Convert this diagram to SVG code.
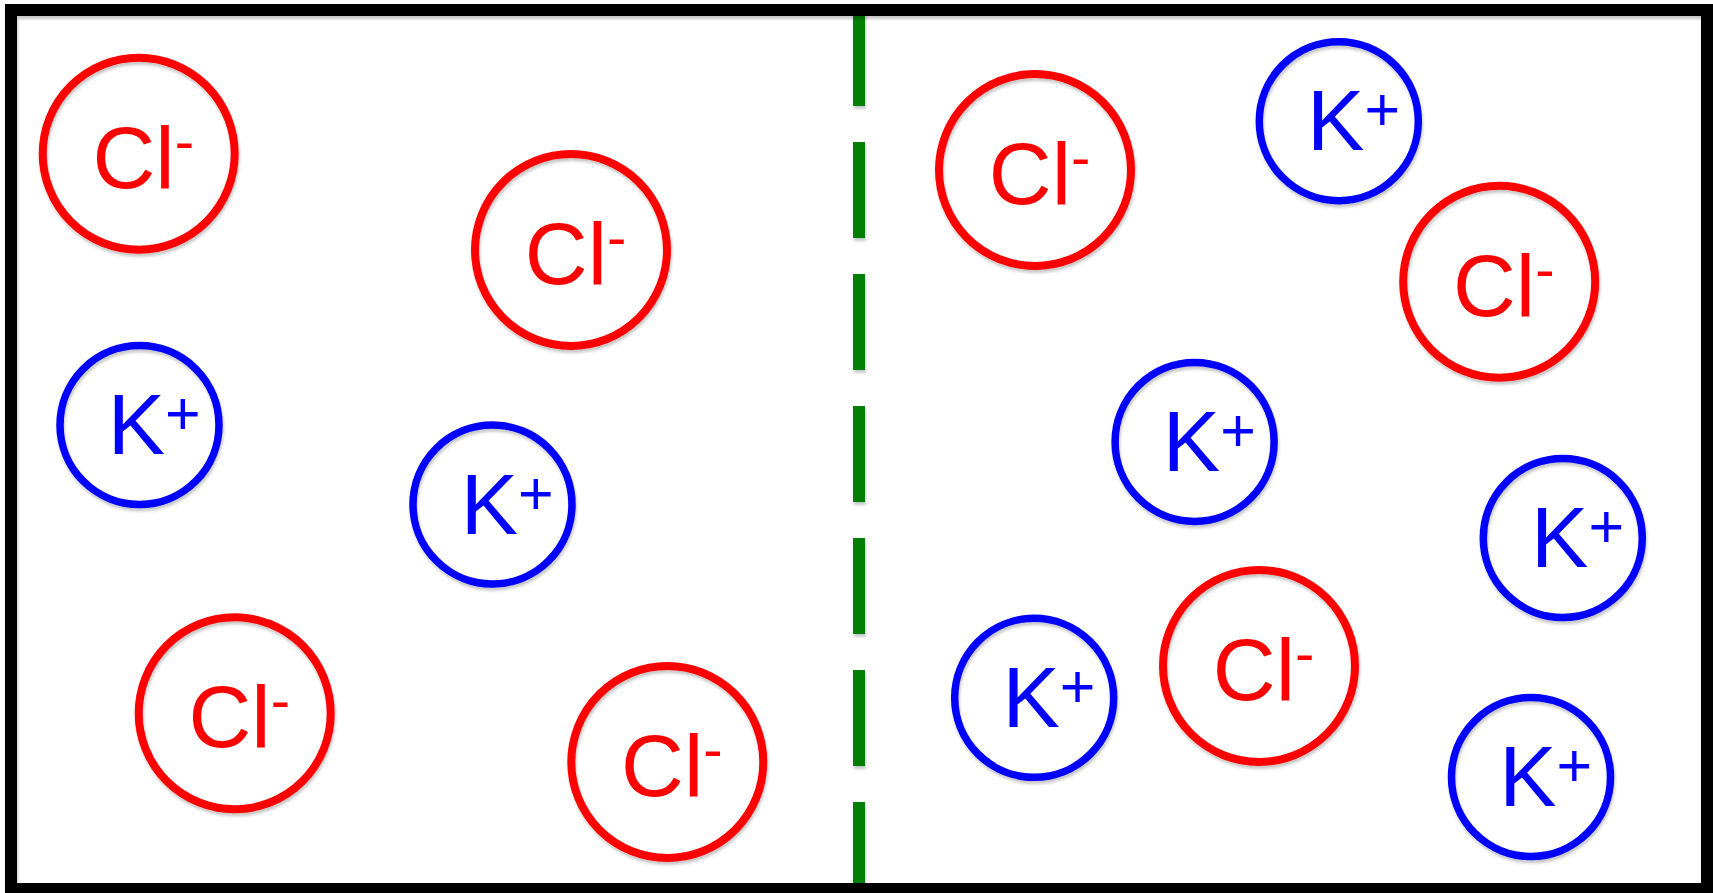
<svg xmlns="http://www.w3.org/2000/svg" width="1713" height="893" viewBox="0 0 1713 893">
<defs>
<filter id="sh" filterUnits="userSpaceOnUse" x="0" y="0" width="1713" height="893">
<feDropShadow dx="1" dy="3" stdDeviation="1.5" flood-color="#000" flood-opacity="0.22"/>
</filter>
<style>
.cl{fill:none;stroke:#FF0000;stroke-width:8;filter:url(#sh)}
.k{fill:none;stroke:#0000FF;stroke-width:7.5;filter:url(#sh)}
.tcl{font-family:"Liberation Sans",Arial,sans-serif;font-size:87px;fill:#FF0000}
.tk{font-family:"Liberation Sans",Arial,sans-serif;font-size:86px;fill:#0000FF}
.sup{font-size:58px}
.supk{font-size:61px}
</style>
</defs>
<rect x="0" y="0" width="1713" height="893" fill="#fff"/>
<g id="membrane">
<line x1="859" y1="10" x2="859" y2="884" stroke="#007F00" stroke-width="12" stroke-dasharray="96 36" filter="url(#sh)"/>
</g>
<g id="cl1"><circle class="cl" cx="138.7" cy="153.7" r="96"/><text class="tcl" x="92.5" y="187.7">Cl<tspan class="sup" dy="-27">-</tspan></text></g>
<g id="cl2"><circle class="cl" cx="571" cy="250" r="96"/><text class="tcl" x="524.8" y="284">Cl<tspan class="sup" dy="-27">-</tspan></text></g>
<g id="k1"><circle class="k" cx="139.5" cy="425" r="79.5"/><text class="tk" x="107.7" y="454">K<tspan class="supk" dy="-20">+</tspan></text></g>
<g id="k2"><circle class="k" cx="492.5" cy="504.5" r="79.5"/><text class="tk" x="460.7" y="533.5">K<tspan class="supk" dy="-20">+</tspan></text></g>
<g id="cl3"><circle class="cl" cx="234.7" cy="713.3" r="96"/><text class="tcl" x="188.5" y="747.3">Cl<tspan class="sup" dy="-27">-</tspan></text></g>
<g id="cl4"><circle class="cl" cx="667.3" cy="762" r="96"/><text class="tcl" x="621.1" y="796">Cl<tspan class="sup" dy="-27">-</tspan></text></g>
<g id="cl5"><circle class="cl" cx="1035" cy="170" r="96"/><text class="tcl" x="988.8" y="204">Cl<tspan class="sup" dy="-27">-</tspan></text></g>
<g id="k3"><circle class="k" cx="1338.8" cy="121.2" r="79.5"/><text class="tk" x="1307" y="150.2">K<tspan class="supk" dy="-20">+</tspan></text></g>
<g id="cl6"><circle class="cl" cx="1499.2" cy="281.7" r="96"/><text class="tcl" x="1453" y="315.7">Cl<tspan class="sup" dy="-27">-</tspan></text></g>
<g id="k4"><circle class="k" cx="1194.6" cy="441.9" r="79.5"/><text class="tk" x="1162.8" y="470.9">K<tspan class="supk" dy="-20">+</tspan></text></g>
<g id="k5"><circle class="k" cx="1562.8" cy="538" r="79.5"/><text class="tk" x="1531" y="567">K<tspan class="supk" dy="-20">+</tspan></text></g>
<g id="k6"><circle class="k" cx="1034.2" cy="697.8" r="79.5"/><text class="tk" x="1002.4" y="726.8">K<tspan class="supk" dy="-20">+</tspan></text></g>
<g id="cl7"><circle class="cl" cx="1259" cy="665.9" r="96"/><text class="tcl" x="1212.8" y="699.9">Cl<tspan class="sup" dy="-27">-</tspan></text></g>
<g id="k7"><circle class="k" cx="1531" cy="777" r="79.5"/><text class="tk" x="1499.2" y="806">K<tspan class="supk" dy="-20">+</tspan></text></g>
<g id="border">
<rect x="11" y="10" width="1696" height="879" fill="none" stroke="#000" stroke-width="12" filter="url(#sh)"/>
</g>
</svg>
